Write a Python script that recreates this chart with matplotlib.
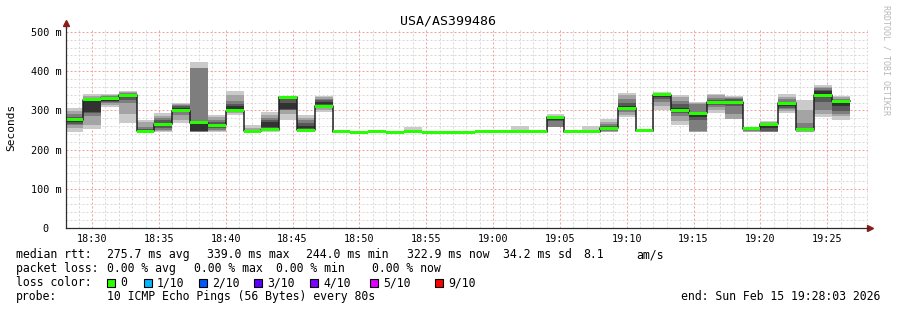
import numpy as np
import matplotlib
matplotlib.use("Agg")
import matplotlib.pyplot as plt
from matplotlib.patches import Rectangle
from matplotlib.ticker import MultipleLocator, FixedLocator

# ---- data ------------------------------------------------------------------------

title = "USA/AS399486"

# time axis in minutes after 18:00, one probe every 80 s
t_start = 28.05          # 18:28:03
t_end = 88.05            # 19:28:03
first_step = 28.0        # 18:28:00
step_s = 80

# median rtt per 80 s step (ms)
median = [276, 327, 331, 338, 247, 265, 299, 268, 262, 299,
          247, 250, 333, 249, 311, 245, 244.0, 245.5, 244.0, 245.5,
          244.3, 244.3, 244.3, 245, 246, 246, 246, 283, 246, 246,
          254, 305, 248, 340, 300, 293, 321, 321, 253, 264,
          318, 250, 339, 323]

# the 10 sorted pings of every step (ms), these make the smoke
pings = [
    [244, 256, 262, 266, 270, 280, 284, 290, 298, 307],
    [252, 263, 285, 293, 295, 326, 328, 332, 336, 342],
    [309, 314, 318, 321, 324, 330, 333, 336, 339, 342],
    [268, 290, 318, 326, 333, 340, 342, 345, 347, 350],
    [246, 247, 247, 247, 247, 249, 252, 258, 270, 275],
    [246, 247, 250, 255, 260, 268, 275, 280, 285, 292],
    [268, 275, 288, 296, 298, 305, 310, 314, 317, 320],
    [244, 245, 246, 247, 248, 265, 268, 407, 409, 423],
    [245, 247, 250, 254, 258, 265, 270, 276, 282, 287],
    [288, 292, 296, 298, 300, 310, 315, 325, 340, 350],
    [244, 245, 245, 246, 246, 247, 248, 250, 255, 263],
    [246, 248, 250, 255, 258, 270, 276, 280, 287, 295],
    [276, 290, 300, 301, 303, 320, 328, 331, 333, 336],
    [247, 248, 250, 252, 255, 260, 268, 275, 280, 288],
    [297, 302, 307, 312, 316, 322, 326, 330, 334, 337],
    [243, 244, 244, 245, 245, 246, 246, 246, 247, 247],
    [243, 243, 243, 244, 244, 244, 244, 245, 245, 245],
    [244, 245, 245, 245, 245, 246, 246, 246, 247, 250],
    [243, 243, 243, 244, 244, 244, 244, 245, 245, 245],
    [244, 245, 245, 245, 245, 246, 246, 246, 247, 258],
    [243, 243, 244, 244, 244, 244, 245, 245, 245, 246],
    [243, 243, 244, 244, 244, 244, 245, 245, 245, 246],
    [243, 243, 244, 244, 244, 244, 245, 245, 245, 246],
    [244, 244, 245, 245, 245, 245, 245, 246, 246, 246],
    [244, 245, 245, 246, 246, 246, 246, 247, 247, 250],
    [245, 245, 246, 246, 246, 246, 247, 247, 250, 260],
    [245, 245, 246, 246, 246, 246, 247, 247, 247, 248],
    [258, 258, 258, 272, 275, 277, 279, 280, 286, 290],
    [244, 244, 245, 245, 245, 246, 246, 246, 246, 247],
    [244, 245, 245, 246, 246, 246, 246, 247, 250, 260],
    [245, 246, 248, 250, 252, 256, 260, 265, 270, 278],
    [282, 288, 295, 300, 305, 312, 320, 330, 338, 344],
    [246, 247, 247, 248, 248, 248, 248, 249, 249, 250],
    [300, 310, 322, 328, 333, 338, 340, 342, 344, 347],
    [263, 272, 285, 293, 298, 305, 315, 325, 333, 340],
    [246, 246, 247, 275, 282, 292, 296, 315, 318, 322],
    [294, 300, 308, 313, 317, 322, 326, 332, 338, 342],
    [277, 278, 290, 310, 318, 324, 328, 332, 334, 337],
    [245, 246, 248, 250, 252, 254, 255, 256, 256, 257],
    [244, 245, 246, 248, 255, 262, 265, 267, 270, 273],
    [294, 298, 303, 306, 310, 318, 322, 328, 335, 342],
    [244, 245, 247, 248, 249, 251, 255, 268, 301, 326],
    [284, 290, 300, 322, 336, 350, 353, 356, 360, 365],
    [275, 285, 290, 298, 310, 322, 326, 330, 333, 336],
]

tick_minutes = [30, 35, 40, 45, 50, 55, 60, 65, 70, 75, 80, 85]
tick_labels = ['18:30', '18:35', '18:40', '18:45', '18:50', '18:55',
               '19:00', '19:05', '19:10', '19:15', '19:20', '19:25']
y_ticks = [0, 100, 200, 300, 400, 500]
y_labels = ['0  ', '100 m', '200 m', '300 m', '400 m', '500 m']

loss_labels = ['0', '1/10', '2/10', '3/10', '4/10', '5/10', '9/10']
loss_colors = ['#26ff00', '#00b8ff', '#0059ff', '#5e00ff', '#7e00ff', '#dd00ff', '#ff0000']

rtt_line = ['median rtt:', '275.7 ms avg', '339.0 ms max', '244.0 ms min',
            '322.9 ms now', '34.2 ms sd', '8.1', 'am/s']
loss_line = ['packet loss:', '0.00 % avg', '0.00 % max', '0.00 % min', '0.00 % now']
probe_text = '10 ICMP Echo Pings (56 Bytes) every 80s'
end_text = 'end: Sun Feb 15 19:28:03 2026'

# ---- drawing ----------------------------------------------------------------------

W, H = 897, 310
MONO = 'DejaVu Sans Mono'
plt.rcParams['font.family'] = MONO


def fx(x):
    return x / W


def fy(y):
    return 1 - y / H


fig = plt.figure(figsize=(W / 100, H / 100), dpi=100)
fig.patch.set_facecolor('white')
ax = fig.add_axes([fx(66), fy(228), (868 - 66) / W, 200 / H])
ax.set_xlim(t_start, t_end)
ax.set_ylim(0, 510)

n = len(median)
edges = first_step + np.arange(n + 1) * step_s / 60.0
P = np.array(pings, dtype=float)
med = np.array(median, dtype=float)

# smoke: outer pair lightest, inner pair darkest
for i in range(5):
    g = int(190 / 5 * (5 - (i + 1))) + 50
    col = '#%02x%02x%02x' % (g, g, g)
    lo = np.append(P[:, i], P[-1, i])
    hi = np.append(P[:, 9 - i], P[-1, 9 - i])
    ax.fill_between(edges, lo, hi, step='post', color=col, lw=0, zorder=2)

ax.step(edges, np.append(med, med[-1]), where='post', color='#202020', lw=1.1, zorder=3)
half = 3.8
ax.fill_between(edges, np.append(med, med[-1]) - half, np.append(med, med[-1]) + half,
                step='post', color=loss_colors[0], lw=0, zorder=4)

# grid
ax.xaxis.set_major_locator(FixedLocator(tick_minutes))
ax.xaxis.set_minor_locator(MultipleLocator(1))
ax.yaxis.set_major_locator(FixedLocator(y_ticks))
ax.yaxis.set_minor_locator(MultipleLocator(20))
ax.set_axisbelow(True)
ax.grid(which='minor', color='#d8d8d8', lw=0.72, linestyle=(0, (2, 2)))
ax.grid(which='major', color='#f2a0a0', lw=0.72, linestyle=(0, (2, 2)))

ax.set_xticklabels(tick_labels)
ax.set_yticklabels(y_labels)
ax.tick_params(which='both', length=0)
ax.tick_params(axis='x', pad=4, labelsize=7.3)
ax.tick_params(axis='y', pad=3, labelsize=7.3)

for s in ['top', 'right']:
    ax.spines[s].set_visible(False)
for s in ['left', 'bottom']:
    ax.spines[s].set_color('#2c2c2c')
    ax.spines[s].set_linewidth(0.9)
    ax.spines[s].set_zorder(5)

# axis arrows
ax.plot([0, 0], [1, 1.02], color='#2c2c2c', lw=0.9, transform=ax.transAxes, clip_on=False)
ax.plot([0], [1.025], marker='^', color='#8b1a1a', ms=4.5, transform=ax.transAxes, clip_on=False)
ax.plot([1.003], [0], marker='>', color='#8b1a1a', ms=4.5, transform=ax.transAxes, clip_on=False)

fig.text(fx(447.5), fy(24), title, ha='center', va='baseline', fontsize=9.5)
fig.text(fx(11), fy(127), 'Seconds', rotation=90, ha='center', va='center', fontsize=8)
fig.text(fx(886), fy(60), 'RRDTOOL / TOBI OETIKER', rotation=270, ha='center',
         va='center', fontsize=6, color='#b8b8b8')

# legend
fs = 8.3
rtt_x = [16, 107.3, 206.7, 306, 407.3, 502.7, 583.3, 636]
for txt, x in zip(rtt_line, rtt_x):
    fig.text(fx(x), fy(258), txt, va='baseline', fontsize=fs)

loss_x = [16, 107.3, 194, 276, 371.7]
for txt, x in zip(loss_line, loss_x):
    fig.text(fx(x), fy(272), txt, va='baseline', fontsize=fs)

fig.text(fx(16), fy(286), 'loss color:', va='baseline', fontsize=fs)
box_x = [107, 144, 199, 254, 310, 370, 435]
for lab, col, x in zip(loss_labels, loss_colors, box_x):
    fig.patches.append(Rectangle((fx(x), fy(286.5)), 8 / W, 8 / H, transform=fig.transFigure,
                                 facecolor=col, edgecolor='black', lw=0.8))
    fig.text(fx(x + 13), fy(286), lab, va='baseline', fontsize=fs)

fig.text(fx(16), fy(300), 'probe:', va='baseline', fontsize=fs)
fig.text(fx(107.3), fy(300), probe_text, va='baseline', fontsize=fs)
fig.text(fx(880), fy(300), end_text, ha='right', va='baseline', fontsize=fs)

fig.savefig('out.png', dpi=100, facecolor='white')
